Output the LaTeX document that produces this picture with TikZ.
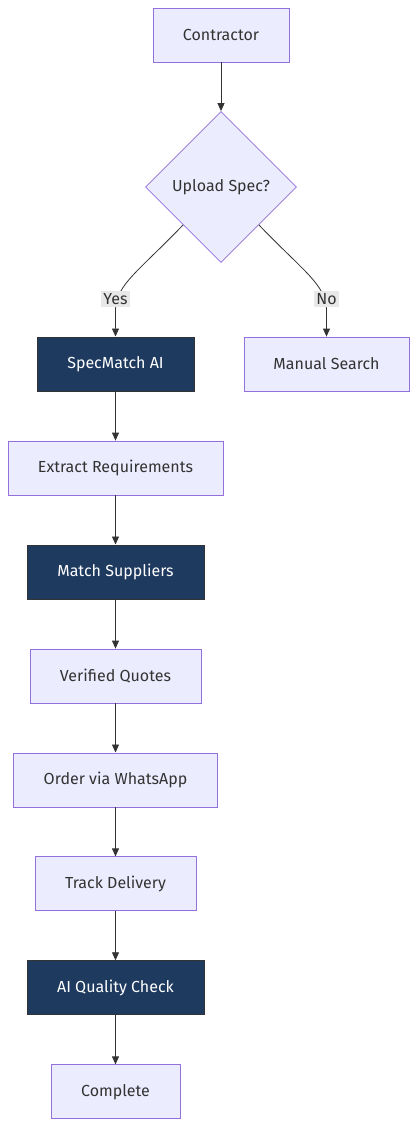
\documentclass[tikz,border=0pt]{standalone}
\usepackage{fontspec}
\setmainfont{Fira Sans}
\usetikzlibrary{shapes.geometric, arrows.meta}
\usetikzlibrary{positioning}
\definecolor{boxfill}{HTML}{ECECFF}
\definecolor{boxline}{HTML}{9370DB}
\definecolor{darkfill}{HTML}{1E3A5F}
\definecolor{inkgray}{HTML}{333333}
\definecolor{labelfill}{HTML}{E8E8E8}
\tikzstyle{process} = [rectangle, minimum height=54pt, text centered, draw=boxline, fill=boxfill, text=inkgray, line width=0.8pt]
\tikzstyle{aiprocess} = [rectangle, minimum height=54pt, text centered, draw=inkgray, fill=darkfill, text=white, line width=1pt]
\tikzstyle{decision} = [diamond, aspect=1, minimum width=151pt, minimum height=151pt, inner sep=0pt, text centered, draw=boxline, fill=boxfill, text=inkgray, line width=0.8pt]
\tikzstyle{edgelabel} = [fill=labelfill, text=inkgray, inner sep=2pt]
\tikzstyle{arrow} = [draw=inkgray, line width=0.8pt, -{Triangle[length=8pt,width=7pt]}]

\begin{document}
\begin{tikzpicture}[x=1pt, y=-1pt, node distance=49.1pt, font=\fontsize{16}{19}\selectfont]
		\useasboundingbox (0,0) rectangle (418,1128);
		\node (contractor) [process, minimum width=136pt] at (221,35) {Contractor};
		\node (upload_spec) [decision] at (221,187) {Upload Spec?};

		\node (specmatch_ai) [aiprocess, minimum width=157pt] at (115.5,364) {SpecMatch AI};
		\node (manual_search) [process, minimum width=165pt] at (326.5,364) {Manual Search};

		\node (extract_requirements) [process, minimum width=215pt, below=of specmatch_ai] {Extract Requirements};
		\node (match_suppliers) [aiprocess, minimum width=177pt, below=of extract_requirements] {Match Suppliers};
		\node (verified_quotes) [process, minimum width=171pt, below=of match_suppliers] {Verified Quotes};
		\node (order_whatsapp) [process, minimum width=204pt, below=of verified_quotes] {Order via WhatsApp};
		\node (track_delivery) [process, minimum width=161pt, below=of order_whatsapp] {Track Delivery};
		\node (quality_check) [aiprocess, minimum width=177pt, below=of track_delivery] {AI Quality Check};
		\node (complete) [process, minimum width=129pt, below=of quality_check] {Complete};

		\draw [arrow] (contractor) -- (upload_spec);
		\draw [arrow] (upload_spec.south west) .. controls (140,270) and (115.5,285) .. (115.5,310) -- (specmatch_ai.north);
		\draw [arrow] (upload_spec.south east) .. controls (302,270) and (326.5,285) .. (326.5,310) -- (manual_search.north);
		\node (yes_label) [edgelabel] at (115.5,299) {Yes};
		\node (no_label) [edgelabel] at (326.5,299) {No};

		\draw [arrow] (specmatch_ai) -- (extract_requirements);
		\draw [arrow] (extract_requirements) -- (match_suppliers);
		\draw [arrow] (match_suppliers) -- (verified_quotes);
		\draw [arrow] (verified_quotes) -- (order_whatsapp);
		\draw [arrow] (order_whatsapp) -- (track_delivery);
		\draw [arrow] (track_delivery) -- (quality_check);
		\draw [arrow] (quality_check) -- (complete);
	\end{tikzpicture}
\end{document}
